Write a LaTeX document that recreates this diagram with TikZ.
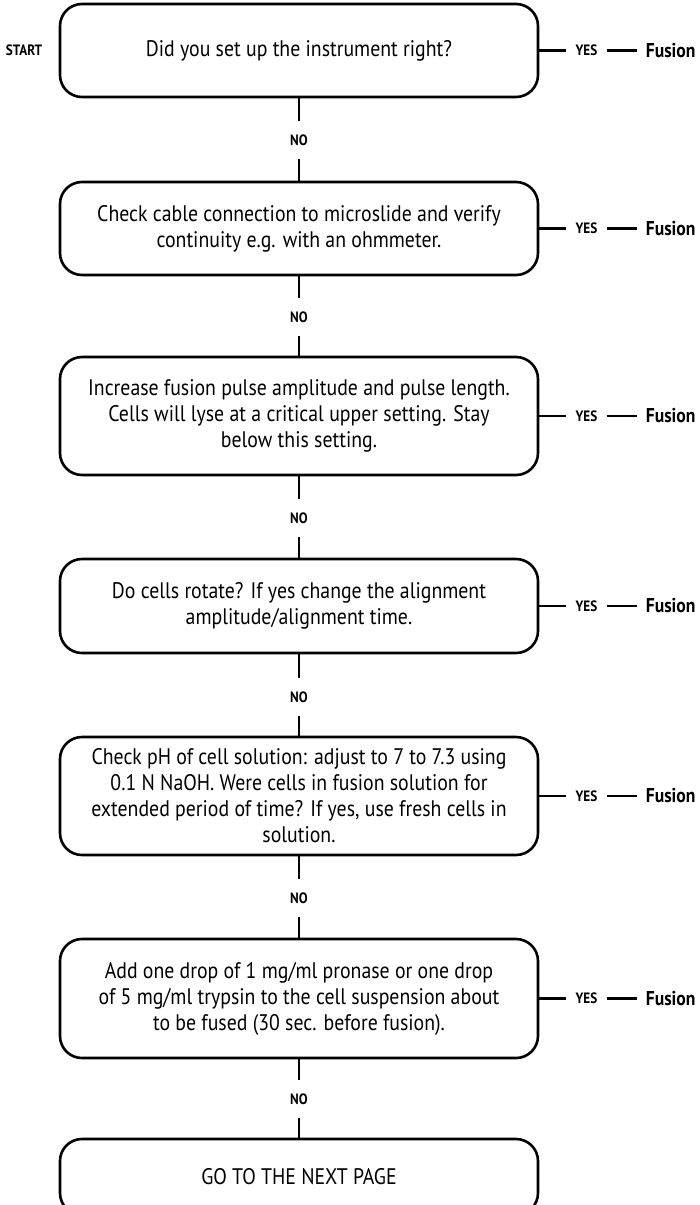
\documentclass[tikz,border=0pt]{standalone}
\usepackage{fontspec}
\setmainfont[FakeStretch=0.88]{PT Sans}
\usetikzlibrary{positioning}
\begin{document}
\begin{tikzpicture}[x=1pt, y=-1pt, line width=2.6pt,
  stepbox/.style={draw, rounded corners=22pt, minimum width=478pt, align=center,
    inner sep=0pt, font=\fontsize{22.5}{26}\selectfont},
  nolbl/.style={font=\fontsize{15}{17}\selectfont\bfseries, inner xsep=0pt, inner ysep=12pt},
  yeslbl/.style={font=\fontsize{15}{17}\selectfont\bfseries, inner xsep=8pt, inner ysep=0pt},
  fuslbl/.style={font=\fontsize{20}{22}\selectfont\bfseries, inner xsep=8pt, inner ysep=0pt}]
\useasboundingbox (0,0) rectangle (700,1205);
\clip (0,0) rectangle (700,1205); % last box runs off the page
% the boxes
\foreach \i/\y/\h/\txt in {
  1/50.5/93/{Did you set up the instrument right?},
  2/228.5/93/{Check cable connection to microslide and verify\\ continuity e.g. with an ohmmeter.},
  3/416/118/{Increase fusion pulse amplitude and pulse length.\\ Cells will lyse at a critical upper setting. Stay\\ below this setting.},
  4/606/94/{Do cells rotate? If yes change the alignment\\ amplitude/alignment time.},
  5/796/118/{Check pH of cell solution: adjust to 7 to 7.3 using\\ 0.1 N NaOH. Were cells in fusion solution for\\ extended period of time? If yes, use fresh cells in\\ solution.},
  6/998.5/119/{Add one drop of 1 mg/ml pronase or one drop\\ of 5 mg/ml trypsin to the cell suspension about\\ to be fused (30 sec. before fusion).},
  7/1177/76/{GO TO THE NEXT PAGE}}
\node[stepbox, minimum height=\h pt] (b\i) at (299,\y) {\txt};
\node[yeslbl] (start) at (24,50.5) {START};
% NO branch going down
\foreach \i/\y in {1/140,2/317,3/518,4/697,5/898,6/1099}{
  \pgfmathtruncatemacro\j{\i+1}
  \node[nolbl] (no\i) at (299,\y) {NO};
  \draw (b\i.south) -- (no\i.north);
  \draw (no\i.south) -- (b\j.north);
}
% YES branch to the right
\foreach \i in {1,...,6}{
  \node[yeslbl, right=27pt of b\i] (yes\i) {YES};
  \node[fuslbl, right=30pt of yes\i] (fus\i) {Fusion};
  \draw (b\i.east) -- (yes\i.west) (yes\i.east) -- (fus\i.west);
}
\end{tikzpicture}
\end{document}
